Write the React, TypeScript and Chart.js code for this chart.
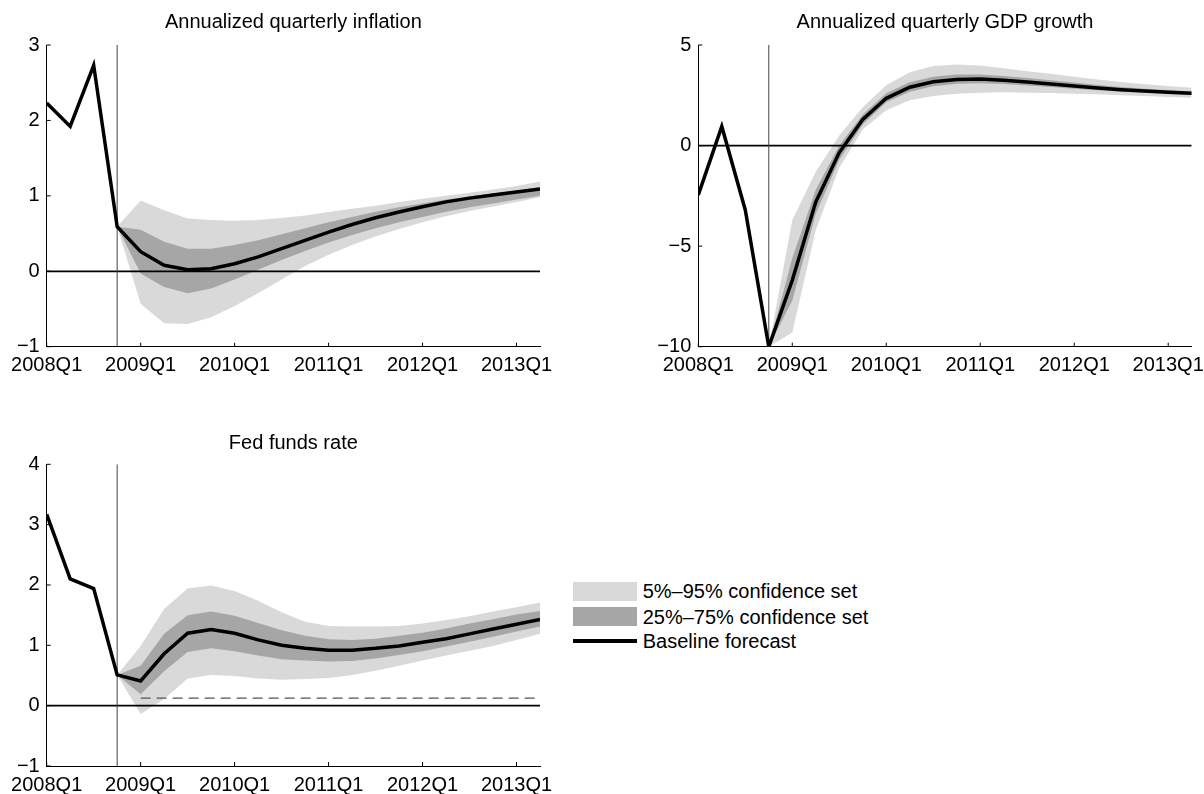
import React, { useEffect, useRef } from "react";
import { Chart, registerables } from "chart.js";

Chart.register(...registerables);

// ---------------- DATA ----------------
const quarterTickIndex = [0, 4, 8, 12, 16, 20];
const quarterTickLabels = ["2008Q1", "2009Q1", "2010Q1", "2011Q1", "2012Q1", "2013Q1"];
const lastQuarterIndex = 21; // 2013Q2
const forecastStartIndex = 3; // 2008Q4

const legendLabels = ["5%\u201395% confidence set", "25%\u201375% confidence set", "Baseline forecast"];

const inflationTitle = "Annualized quarterly inflation";
const inflationBaseline = [2.23, 1.92, 2.73, 0.59, 0.26, 0.08, 0.02, 0.035, 0.1, 0.19, 0.3, 0.41, 0.52, 0.62, 0.71, 0.785, 0.855, 0.92, 0.97, 1.01, 1.05, 1.09];
const inflationOuterHigh = [null, null, null, 0.59, 0.94, 0.81, 0.7, 0.68, 0.67, 0.68, 0.705, 0.74, 0.785, 0.83, 0.87, 0.92, 0.96, 1.0, 1.04, 1.085, 1.13, 1.19];
const inflationOuterLow = [null, null, null, 0.59, -0.43, -0.69, -0.7, -0.61, -0.46, -0.29, -0.11, 0.07, 0.22, 0.35, 0.46, 0.56, 0.65, 0.73, 0.8, 0.86, 0.92, 0.98];
const inflationInnerHigh = [null, null, null, 0.59, 0.55, 0.39, 0.3, 0.3, 0.35, 0.41, 0.49, 0.57, 0.65, 0.72, 0.79, 0.85, 0.9, 0.95, 0.99, 1.03, 1.07, 1.11];
const inflationInnerLow = [null, null, null, 0.59, -0.03, -0.21, -0.29, -0.23, -0.11, 0.02, 0.15, 0.27, 0.38, 0.48, 0.57, 0.65, 0.72, 0.79, 0.85, 0.9, 0.95, 1.0];
const inflationYTicks = { min: -1, max: 3, step: 1 };

const gdpTitle = "Annualized quarterly GDP growth";
const gdpBaseline = [-2.45, 0.95, -3.2, -10, -6.7, -2.8, -0.35, 1.3, 2.35, 2.9, 3.17, 3.29, 3.31, 3.25, 3.16, 3.06, 2.96, 2.86, 2.78, 2.71, 2.65, 2.6];
const gdpOuterHigh = [null, null, null, -10, -3.7, -1.3, 0.5, 1.9, 3.0, 3.65, 3.95, 4.03, 3.98, 3.85, 3.7, 3.57, 3.42, 3.28, 3.16, 3.05, 2.96, 2.88];
const gdpOuterLow = [null, null, null, -10, -9.3, -4.2, -1.1, 0.8, 1.75, 2.25, 2.46, 2.58, 2.63, 2.65, 2.63, 2.61, 2.58, 2.55, 2.5, 2.46, 2.41, 2.38];
const gdpInnerHigh = [null, null, null, -10, -5.6, -2.2, 0.0, 1.55, 2.6, 3.15, 3.42, 3.53, 3.53, 3.46, 3.36, 3.25, 3.13, 3.01, 2.91, 2.83, 2.76, 2.69];
const gdpInnerLow = [null, null, null, -10, -7.7, -3.4, -0.7, 1.05, 2.15, 2.68, 2.95, 3.07, 3.1, 3.06, 2.99, 2.91, 2.83, 2.75, 2.68, 2.62, 2.57, 2.52];
const gdpYTicks = { min: -10, max: 5, step: 5 };

const fedTitle = "Fed funds rate";
const fedBaseline = [3.17, 2.1, 1.94, 0.51, 0.41, 0.86, 1.2, 1.26, 1.2, 1.09, 1.0, 0.95, 0.92, 0.92, 0.95, 0.99, 1.05, 1.11, 1.19, 1.27, 1.35, 1.43];
const fedOuterHigh = [null, null, null, 0.51, 0.99, 1.6, 1.94, 1.99, 1.9, 1.74, 1.55, 1.39, 1.32, 1.31, 1.31, 1.32, 1.36, 1.42, 1.48, 1.56, 1.63, 1.71];
const fedOuterLow = [null, null, null, 0.51, -0.14, 0.11, 0.45, 0.51, 0.49, 0.45, 0.43, 0.44, 0.46, 0.51, 0.58, 0.66, 0.75, 0.83, 0.91, 0.99, 1.09, 1.19];
const fedInnerHigh = [null, null, null, 0.51, 0.66, 1.19, 1.5, 1.56, 1.49, 1.37, 1.25, 1.16, 1.1, 1.09, 1.11, 1.16, 1.21, 1.28, 1.36, 1.43, 1.51, 1.57];
const fedInnerLow = [null, null, null, 0.51, 0.19, 0.57, 0.89, 0.95, 0.9, 0.83, 0.77, 0.75, 0.73, 0.74, 0.78, 0.84, 0.9, 0.98, 1.06, 1.14, 1.23, 1.31];
const fedFloorLevel = 0.125;
const fedFloorStartIndex = 4;
const fedYTicks = { min: -1, max: 4, step: 1 };

// ---------------- STYLE ----------------
const FONT = '"Liberation Sans", Arial, Helvetica, sans-serif';
const LIGHT = "#d9d9d9";
const DARK = "#a6a6a6";

Chart.defaults.font.family = FONT;
Chart.defaults.color = "#000";

const inwardTicks = {
  id: "inwardTicks",
  afterDatasetsDraw(chart: any) {
    const { ctx, chartArea, scales } = chart;
    const x = scales.x;
    const y = scales.y;
    ctx.save();
    ctx.strokeStyle = "#000";
    ctx.lineWidth = 1;
    ctx.beginPath();
    y.ticks.forEach((t: any) => {
      const py = y.getPixelForValue(t.value);
      ctx.moveTo(chartArea.left, py);
      ctx.lineTo(chartArea.left + 4, py);
    });
    x.ticks.forEach((t: any) => {
      const px = x.getPixelForValue(t.value);
      ctx.moveTo(px, chartArea.bottom);
      ctx.lineTo(px, chartArea.bottom - 4);
    });
    ctx.stroke();
    ctx.restore();
  },
};

const pts = (arr: (number | null)[]) => arr.map((v, i) => ({ x: i, y: v }));
const fmt = (v: number) => (v < 0 ? "\u2212" + Math.abs(v) : String(v));

type PanelProps = {
  title: string;
  baseline: number[];
  outerHigh: (number | null)[];
  outerLow: (number | null)[];
  innerHigh: (number | null)[];
  innerLow: (number | null)[];
  yTicks: { min: number; max: number; step: number };
  floor?: { level: number; start: number };
  left: number;
  top: number;
  width: number;
  height: number;
  yAxisWidth: number;
  padRight: number;
  titlePadTop: number;
  titlePadBottom: number;
  xAxisHeight: number;
};

function Panel(p: PanelProps) {
  const ref = useRef<HTMLCanvasElement | null>(null);
  useEffect(() => {
    if (!ref.current) return;
    const transparent = "rgba(0,0,0,0)";
    const datasets: any[] = [
      { data: pts(p.outerHigh), fill: "+1", backgroundColor: LIGHT, borderColor: transparent, borderWidth: 0, pointRadius: 0, order: 10 },
      { data: pts(p.outerLow), fill: false, borderColor: transparent, borderWidth: 0, pointRadius: 0, order: 9 },
      { data: pts(p.innerHigh), fill: "+1", backgroundColor: DARK, borderColor: transparent, borderWidth: 0, pointRadius: 0, order: 8 },
      { data: pts(p.innerLow), fill: false, borderColor: transparent, borderWidth: 0, pointRadius: 0, order: 7 },
      { data: [{ x: 0, y: 0 }, { x: lastQuarterIndex, y: 0 }], borderColor: "#000", borderWidth: 1.8, pointRadius: 0, fill: false, order: 5 },
      { data: [{ x: forecastStartIndex, y: p.yTicks.min }, { x: forecastStartIndex, y: p.yTicks.max }], borderColor: "#444", borderWidth: 1, pointRadius: 0, fill: false, order: 4 },
    ];
    if (p.floor) {
      datasets.push({
        data: [{ x: p.floor.start, y: p.floor.level }, { x: lastQuarterIndex, y: p.floor.level }],
        borderColor: "#555", borderWidth: 1.2, borderDash: [10, 6], pointRadius: 0, fill: false, order: 3,
      });
    }
    datasets.push({ data: pts(p.baseline), borderColor: "#000", borderWidth: 3.5, pointRadius: 0, fill: false, order: 0, borderJoinStyle: "miter" });

    const chart = new Chart(ref.current, {
      type: "line",
      data: { datasets },
      options: {
        responsive: false,
        animation: false,
        events: [],
        layout: { padding: { left: 0, right: p.padRight, top: 0, bottom: 0 } },
        plugins: {
          legend: { display: false },
          tooltip: { enabled: false },
          title: {
            display: true,
            text: p.title,
            fullSize: false,
            color: "#000",
            font: { size: 20, weight: "normal", family: FONT, lineHeight: 1.2 },
            padding: { top: p.titlePadTop, bottom: p.titlePadBottom },
          },
        },
        scales: {
          x: {
            type: "linear",
            min: 0,
            max: lastQuarterIndex,
            grid: { display: false, drawTicks: false },
            border: { display: true, color: "#000", width: 1 },
            afterBuildTicks: (s: any) => {
              s.ticks = quarterTickIndex.map((v) => ({ value: v }));
            },
            afterFit: (s: any) => {
              s.height = p.xAxisHeight;
              s.paddingLeft = 0;
              s.paddingRight = 0;
            },
            ticks: {
              autoSkip: false,
              maxRotation: 0,
              minRotation: 0,
              padding: 7,
              color: "#000",
              font: { size: 20, family: FONT, lineHeight: 1.2 },
              callback: (v: any) => {
                const i = quarterTickIndex.indexOf(Number(v));
                return i >= 0 ? quarterTickLabels[i] : "";
              },
            },
          },
          y: {
            type: "linear",
            min: p.yTicks.min,
            max: p.yTicks.max,
            grid: { display: false, drawTicks: false },
            border: { display: true, color: "#000", width: 1 },
            afterFit: (s: any) => {
              s.width = p.yAxisWidth;
              s.paddingTop = 0;
              s.paddingBottom = 0;
            },
            ticks: {
              stepSize: p.yTicks.step,
              padding: 7,
              color: "#000",
              font: { size: 20, family: FONT, lineHeight: 1.2 },
              callback: (v: any) => fmt(Number(v)),
            },
          },
        },
      } as any,
      plugins: [inwardTicks],
    });
    return () => chart.destroy();
  }, []);
  return (
    <canvas
      ref={ref}
      width={p.width}
      height={p.height}
      style={{ position: "absolute", left: p.left, top: p.top, width: p.width, height: p.height }}
    />
  );
}

function Legend() {
  const rowText: React.CSSProperties = {
    position: "absolute",
    left: 642.7,
    fontFamily: FONT,
    fontSize: 20,
    lineHeight: "24px",
    color: "#000",
    whiteSpace: "nowrap",
  };
  return (
    <>
      <div style={{ position: "absolute", left: 573.3, top: 581.7, width: 64, height: 19, background: LIGHT }} />
      <div style={{ ...rowText, top: 591 - 12 }}>{legendLabels[0]}</div>
      <div style={{ position: "absolute", left: 573.3, top: 606.7, width: 64, height: 19, background: DARK }} />
      <div style={{ ...rowText, top: 616.7 - 12 }}>{legendLabels[1]}</div>
      <div style={{ position: "absolute", left: 573.3, top: 641 - 1.75, width: 64, height: 3.5, background: "#000" }} />
      <div style={{ ...rowText, top: 641 - 12 }}>{legendLabels[2]}</div>
    </>
  );
}

export default function App() {
  return (
    <div style={{ position: "absolute", left: 0, top: 0, width: 1204, height: 794, background: "#fff", overflow: "hidden" }}>
      <Panel
        title={inflationTitle}
        baseline={inflationBaseline}
        outerHigh={inflationOuterHigh}
        outerLow={inflationOuterLow}
        innerHigh={inflationInnerHigh}
        innerLow={inflationInnerLow}
        yTicks={inflationYTicks}
        left={0}
        top={0}
        width={560}
        height={390}
        yAxisWidth={46.7}
        padRight={20}
        titlePadTop={10}
        titlePadBottom={11}
        xAxisHeight={43.3}
      />
      <Panel
        title={gdpTitle}
        baseline={gdpBaseline}
        outerHigh={gdpOuterHigh}
        outerLow={gdpOuterLow}
        innerHigh={gdpInnerHigh}
        innerLow={gdpInnerLow}
        yTicks={gdpYTicks}
        left={640}
        top={0}
        width={564}
        height={390}
        yAxisWidth={58.3}
        padRight={12.3}
        titlePadTop={10}
        titlePadBottom={11}
        xAxisHeight={43.3}
      />
      <Panel
        title={fedTitle}
        baseline={fedBaseline}
        outerHigh={fedOuterHigh}
        outerLow={fedOuterLow}
        innerHigh={fedInnerHigh}
        innerLow={fedInnerLow}
        yTicks={fedYTicks}
        floor={{ level: fedFloorLevel, start: fedFloorStartIndex }}
        left={0}
        top={420}
        width={560}
        height={374}
        yAxisWidth={46.7}
        padRight={20}
        titlePadTop={11}
        titlePadBottom={9.3}
        xAxisHeight={28}
      />
      <Legend />
    </div>
  );
}
